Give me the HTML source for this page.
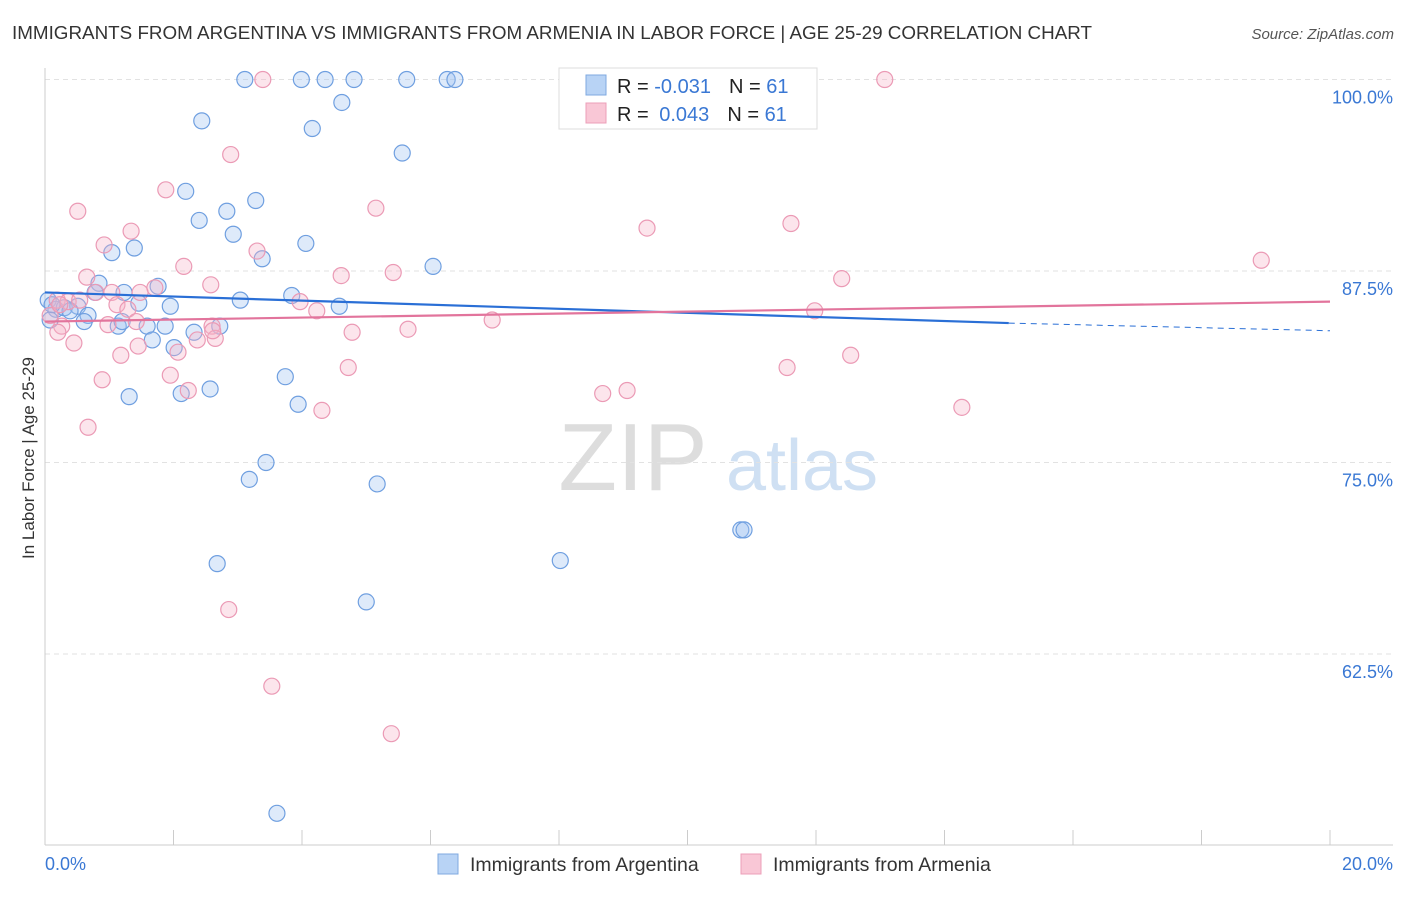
<!DOCTYPE html>
<html><head><meta charset="utf-8">
<style>
body{margin:0;background:#fff;font-family:"Liberation Sans",sans-serif;}
svg text{font-family:"Liberation Sans",sans-serif;}
</style></head>
<body>
<svg id="chart" width="1406" height="892" xmlns="http://www.w3.org/2000/svg">
<text x="12" y="39" font-size="18" fill="#333" textLength="1080" lengthAdjust="spacingAndGlyphs">IMMIGRANTS FROM ARGENTINA VS IMMIGRANTS FROM ARMENIA IN LABOR FORCE | AGE 25-29 CORRELATION CHART</text>
<text x="1394" y="39" font-size="15" fill="#555" text-anchor="end" font-style="italic">Source: ZipAtlas.com</text>
<g>
<text x="633" y="490" font-size="96" fill="#ddd" font-family="Liberation Serif" text-anchor="middle">ZIP</text>
<text x="802" y="490" font-size="72" fill="#cfe0f3" text-anchor="middle">atlas</text>
</g>
<g id="grid"></g>
<g id="axes"></g>
<g id="pts"></g>
<g id="trends"></g>
<text transform="translate(34,458) rotate(-90)" font-size="17" fill="#333" text-anchor="middle">In Labor Force | Age 25-29</text>
<g>
<rect x="559" y="68" width="258" height="61" fill="#fff" stroke="#ddd"/>
<rect x="586" y="75" width="20" height="20" fill="#b8d3f5" stroke="#7fa9e0"/>
<rect x="586" y="103" width="20" height="20" fill="#f9c7d6" stroke="#ec9fb8"/>
<text x="617" y="93" font-size="20" fill="#222">R = <tspan fill="#3a78d4">-0.031</tspan><tspan dx="18">N = </tspan><tspan fill="#3a78d4">61</tspan></text>
<text x="617" y="121" font-size="20" fill="#222">R = <tspan dx="5" fill="#3a78d4">0.043</tspan><tspan dx="18">N = </tspan><tspan fill="#3a78d4">61</tspan></text>
</g>
<g>
<rect x="438" y="854" width="20" height="20" fill="#b8d3f5" stroke="#7fa9e0"/>
<text x="470" y="871" font-size="19.5" fill="#333">Immigrants from Argentina</text>
<rect x="741" y="854" width="20" height="20" fill="#f9c7d6" stroke="#ec9fb8"/>
<text x="773" y="871" font-size="19.5" fill="#333">Immigrants from Armenia</text>
</g>
</svg>
<script>
const blueX=[3.11,3.99,4.36,4.81,5.63,6.26,6.38,4.62,2.44,4.16,5.56,2.19,3.28,2.83,2.40,2.93,1.39,1.04,4.06,3.38,6.04,0.84,1.76,1.23,3.84,3.04,1.46,1.95,4.58,0.05,0.17,0.30,0.51,0.67,0.61,1.14,1.20,1.59,1.87,2.72,2.32,1.67,2.01,3.74,2.57,2.12,3.94,1.31,3.44,3.18,5.17,10.83,10.88,2.68,8.02,5.00,3.61,0.08,0.78,0.39,0.11,8.95];
const blueY=[100,100,100,100,100,100,100,98.5,97.3,96.8,95.2,92.7,92.1,91.4,90.8,89.9,89.0,88.7,89.3,88.3,87.8,86.7,86.5,86.1,85.9,85.6,85.4,85.2,85.2,85.6,85.0,85.1,85.2,84.6,84.2,83.9,84.2,83.9,83.9,83.9,83.5,83.0,82.5,80.6,79.8,79.5,78.8,79.3,75.0,73.9,73.6,70.6,70.6,68.4,68.6,65.9,52.1,84.3,86.1,84.9,85.3,100.2];
const pinkX=[3.39,13.07,2.89,1.88,0.51,5.15,9.37,11.61,1.34,0.92,3.30,2.16,4.61,5.42,0.65,12.40,18.93,2.58,1.71,0.79,1.04,1.48,0.19,0.36,3.97,1.12,1.29,4.23,11.98,6.96,0.26,1.42,2.60,2.65,2.37,5.65,4.78,0.20,0.45,1.45,2.07,1.18,12.54,4.72,11.55,1.95,0.89,2.23,8.68,9.06,4.31,14.27,0.67,2.86,3.53,5.39,0.98,0.08,0.23,0.54,2.61];
const pinkY=[100,100,95.1,92.8,91.4,91.6,90.3,90.6,90.1,89.2,88.8,87.8,87.2,87.4,87.1,87.0,88.2,86.6,86.4,86.1,86.1,86.1,85.6,85.5,85.5,85.3,85.0,84.9,84.9,84.3,83.9,84.2,83.9,83.1,83.0,83.7,83.5,83.5,82.8,82.6,82.2,82.0,82.0,81.2,81.2,80.7,80.4,79.7,79.5,79.7,78.4,78.6,77.3,65.4,60.4,57.3,84.0,84.6,85.3,85.6,83.6];
const blueTrend=[86.1,84.1,83.6];
const pinkTrend=[84.2,85.5];
const yTicks=[100,87.5,75,62.5];
const yTickLabels=["100.0%","87.5%","75.0%","62.5%"];
const xTicks=[0,2,4,6,8,10,12,14,16,18,20];
const NS="http://www.w3.org/2000/svg";
const X=v=>45+v/20*1285;
const Y=v=>79.5+(100-v)/12.5*191.5;
function mk(parent,tag,attrs){const e=document.createElementNS(NS,tag);for(const k in attrs)e.setAttribute(k,attrs[k]);document.getElementById(parent).appendChild(e);return e;}
yTicks.forEach((t,i)=>{
 const l=mk('grid','line',{x1:45,x2:1393,y1:Y(t),y2:Y(t),stroke:'#e2e2e2','stroke-dasharray':'5,4'});
 
 
 const tx=mk('grid','text',{x:1393,y:Y(t)+24,'font-size':18,fill:'#3a78d4','text-anchor':'end'});
 tx.textContent=yTickLabels[i];
 
 
});
const ax=mk('axes','line',{x1:45,x2:1393,y1:845,y2:845,stroke:'#ccc'});


const ay=mk('axes','line',{x1:45,x2:45,y1:68,y2:845,stroke:'#ccc'});


xTicks.forEach(t=>{
 const l=mk('axes','line',{x1:X(t),x2:X(t),y1:830,y2:845,stroke:'#ccc'});
 
 
});
const xl0=mk('axes','text',{x:45,y:870,'font-size':18,fill:'#3a78d4'});xl0.textContent='0.0%';


const xl1=mk('axes','text',{x:1393,y:870,'font-size':18,fill:'#3a78d4','text-anchor':'end'});xl1.textContent='20.0%';


blueX.forEach((v,i)=>{
 const c=mk('pts','circle',{cx:X(v),cy:Y(blueY[i]),r:8,fill:'rgba(160,195,240,0.35)',stroke:'#6f9fe0','stroke-width':1.2});
 
 
});
pinkX.forEach((v,i)=>{
 const c=mk('pts','circle',{cx:X(v),cy:Y(pinkY[i]),r:8,fill:'rgba(245,180,200,0.35)',stroke:'#eb9ab5','stroke-width':1.2});
 
 
});
const b1=mk('trends','line',{x1:X(0),y1:Y(blueTrend[0]),x2:X(15),y2:Y(blueTrend[1]),stroke:'#2a6fd6','stroke-width':2.2});


const b2=mk('trends','line',{x1:X(15),y1:Y(blueTrend[1]),x2:X(20),y2:Y(blueTrend[2]),stroke:'#2a6fd6','stroke-width':1,'stroke-dasharray':'6,5'});


const p1=mk('trends','line',{x1:X(0),y1:Y(pinkTrend[0]),x2:X(20),y2:Y(pinkTrend[1]),stroke:'#e2749c','stroke-width':2.2});


</script>
</body></html>
